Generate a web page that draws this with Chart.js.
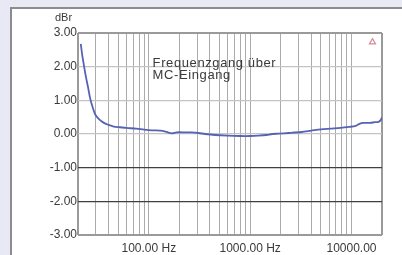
<!DOCTYPE html>
<html>
<head>
<meta charset="utf-8">
<script src="https://cdn.jsdelivr.net/npm/chart.js@4.4.0/dist/chart.umd.min.js"></script>
<style>
  html, body { margin: 0; padding: 0; }
  body { width: 402px; height: 255px; background: #e9e9f5; position: relative; overflow: hidden; }
  #panel { position: absolute; left: 10px; top: 7px; width: 500px; height: 400px; background: #fff;
           border-left: 2px solid #8c8c8c; border-top: 2px solid #8c8c8c; }
  #c { position: absolute; left: 0; top: 0; }
</style>
</head>
<body>
<div id="panel"></div>
<canvas id="c" width="402" height="255"></canvas>
<script>
// frequency response (Hz / dBr)
const freqs = [21.3, 22, 23, 24, 25, 26.4, 28, 29.6, 32, 36, 40, 45, 52, 60, 75, 90, 107, 130, 150, 168,
  188, 230, 265, 310, 360, 450, 600, 800, 1000, 1200, 1450, 1650, 1900, 2400, 3200, 4000, 5000, 6200,
  7800, 9500, 11000, 12000, 13000, 15300, 17000, 18500, 19500, 20000];
const dbr = [2.68, 2.35, 2.0, 1.68, 1.42, 1.05, 0.78, 0.58, 0.45, 0.33, 0.27, 0.22, 0.2, 0.18, 0.16, 0.13, 0.11, 0.10, 0.06, 0.02,
  0.05, 0.05, 0.05, 0.03, 0.0, -0.03, -0.05, -0.06, -0.06, -0.05, -0.03, 0.0, 0.01, 0.03, 0.06, 0.10, 0.14, 0.16,
  0.18, 0.21, 0.24, 0.30, 0.33, 0.33, 0.35, 0.36, 0.42, 0.50];

// little marker top right
const markerFreq = [16100];
const markerDb = [2.73];

// ticks
const xGridTicks = [20, 30, 40, 50, 60, 70, 80, 90, 100, 200, 300, 400, 500, 600, 700, 800, 900,
  1000, 2000, 3000, 4000, 5000, 6000, 7000, 8000, 9000, 10000, 20000];
const xLabelValues = [100, 1000, 10000];
const xLabels = ['100.00 Hz', '1000.00 Hz', '10000.00'];
const yTicks = [-3, -2, -1, 0, 1, 2, 3];
const yLabels = ['-3.00', '-2.00', '-1.00', '0.00', '1.00', '2.00', '3.00'];

const noteLines = ['Frequenzgang über', 'MC-Eingang'];
const unitLabel = 'dBr';

const FONT = '"Liberation Sans", Arial, sans-serif';

const textPlugin = {
  id: 'texts',
  afterDatasetsDraw(chart) {
    const { ctx, scales: { x, y }, chartArea } = chart;
    ctx.save();
    ctx.fillStyle = '#3a3a3a';
    ctx.textBaseline = 'middle';
    ctx.textAlign = 'left';
    ctx.font = '13px ' + FONT;
    ctx.letterSpacing = '0.6px';
    const tx = x.getPixelForValue(109);
    ctx.fillText(noteLines[0], tx, y.getPixelForValue(2.1));
    ctx.fillText(noteLines[1], tx, y.getPixelForValue(1.74));
    ctx.letterSpacing = '0px';
    ctx.font = '11px ' + FONT;
    ctx.fillText(unitLabel, 55, chartArea.top - 15);
    ctx.restore();
  }
};

new Chart(document.getElementById('c'), {
  type: 'line',
  data: {
    datasets: [
      {
        data: freqs.map((f, i) => ({ x: f, y: dbr[i] })),
        borderColor: '#5663b4',
        borderWidth: 1.8,
        pointRadius: 0,
        tension: 0.3,
        fill: false,
      },
      {
        type: 'scatter',
        data: markerFreq.map((f, i) => ({ x: f, y: markerDb[i] })),
        pointStyle: 'triangle',
        pointRadius: 3.5,
        borderColor: '#d9899a',
        backgroundColor: 'rgba(0,0,0,0)',
        borderWidth: 1.2,
      },
    ],
  },
  options: {
    responsive: false,
    animation: false,
    devicePixelRatio: 1,
    layout: { padding: { top: 33, right: 20, bottom: 0, left: 0 } },
    plugins: {
      legend: { display: false },
      tooltip: { enabled: false },
    },
    scales: {
      x: {
        type: 'logarithmic',
        min: 20,
        max: 20000,
        afterBuildTicks: s => { s.ticks = xGridTicks.map(v => ({ value: v })); },
        afterFit: s => { s.height = 20; s.paddingLeft = 0; s.paddingRight = 0; },
        grid: {
          drawTicks: false,
          color: c => (c.tick && (c.tick.value === 20 || c.tick.value === 20000)) ? '#9a9a9a' : '#ababab',
          lineWidth: c => (c.tick && (c.tick.value === 20 || c.tick.value === 20000)) ? 2 : 1,
        },
        border: { display: false },
        ticks: {
          autoSkip: false,
          maxRotation: 0,
          padding: 6,
          color: '#3a3a3a',
          font: { size: 12, family: FONT },
          callback: v => {
            const i = xLabelValues.indexOf(v);
            return i >= 0 ? xLabels[i] : '';
          },
        },
      },
      y: {
        min: -3,
        max: 3,
        afterBuildTicks: s => { s.ticks = yTicks.map(v => ({ value: v })); },
        afterFit: s => { s.width = 78; s.paddingTop = 0; s.paddingBottom = 0; },
        grid: {
          drawTicks: false,
          color: c => {
            const v = c.tick && c.tick.value;
            if (v === -1 || v === -2) return '#404040';
            if (v === 3 || v === -3) return '#9a9a9a';
            return '#c4c4c4';
          },
          lineWidth: c => {
            const v = c.tick && c.tick.value;
            return (v === 3 || v === -3) ? 2 : 1.3;
          },
        },
        border: { display: false },
        ticks: {
          padding: 1,
          color: '#3a3a3a',
          font: { size: 12, family: FONT },
          callback: v => yLabels[yTicks.indexOf(v)],
        },
      },
    },
  },
  plugins: [textPlugin],
});
</script>
</body>
</html>
